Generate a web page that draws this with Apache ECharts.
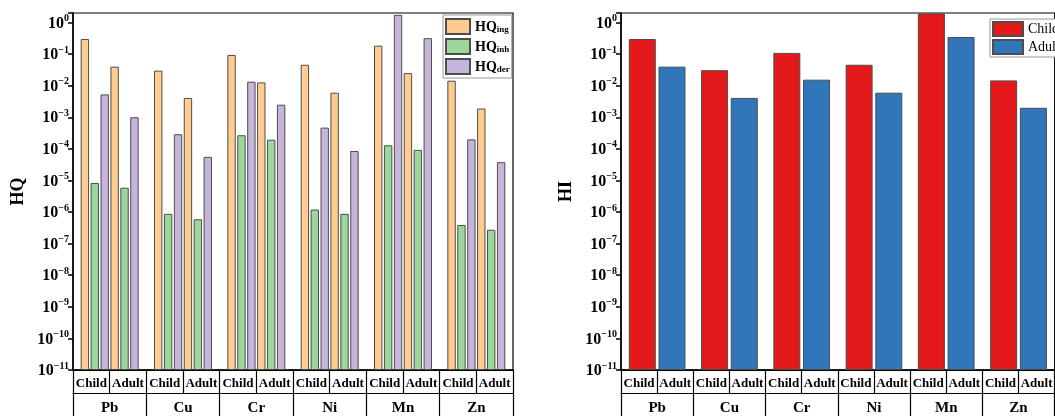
<!DOCTYPE html>
<html>
<head>
<meta charset="utf-8">
<script src="https://cdn.jsdelivr.net/npm/echarts@6/dist/echarts.min.js"></script>
<style>html,body{margin:0;padding:0;background:#fff}#c{width:1055px;height:416px}</style>
</head>
<body>
<div id="c"></div>
<script>
const elements = ['Pb', 'Cu', 'Cr', 'Ni', 'Mn', 'Zn'];
const ages = ['Child', 'Adult'];
const hqIngChild = [0.30, 0.030, 0.094, 0.046, 0.185, 0.0144];
const hqInhChild = [8.3e-6, 8.8e-7, 2.7e-4, 1.2e-6, 1.3e-4, 3.9e-7];
const hqDerChild = [5.3e-3, 2.9e-4, 0.0134, 4.7e-4, 1.75, 2.0e-4];
const hqIngAdult = [0.040, 4.1e-3, 0.0127, 6.0e-3, 0.025, 1.9e-3];
const hqInhAdult = [5.9e-6, 5.9e-7, 1.95e-4, 8.8e-7, 9.3e-5, 2.75e-7];
const hqDerAdult = [1.0e-3, 5.6e-5, 2.5e-3, 8.6e-5, 0.32, 3.8e-5];
const hiChild = [0.30, 0.031, 0.109, 0.046, 1.94, 0.0147];
const hiAdult = [0.040, 4.1e-3, 0.0155, 6.0e-3, 0.347, 2.0e-3];
const yTickMin = 1e-11;
const yTickMax = 2;

const FONT = '"Liberation Serif", "Times New Roman", serif';
const subCats = [];
elements.forEach(() => ages.forEach(a => subCats.push(a)));

function yLabel(v) {
  const l = Math.log10(v);
  const e = Math.round(l);
  if (Math.abs(l - e) > 1e-6) return '';
  return '{b|10}{p|' + (e < 0 ? '\u2212' + (-e) : e) + '}';
}

function makeY(gi, name) {
  return {
    type: 'log', gridIndex: gi, min: yTickMin, max: yTickMax, startValue: yTickMin,
    interval: 1, splitNumber: 11, logBase: 10,
    name: name, nameLocation: 'middle', nameGap: 46,
    nameTextStyle: { fontFamily: FONT, fontWeight: 'bold', fontSize: 18, color: '#000' },
    axisLine: { show: true, lineStyle: { color: '#000', width: 1.5 } },
    axisTick: { show: true, length: 5, lineStyle: { color: '#000', width: 1.5 } },
    splitLine: { show: false },
    minorTick: { show: false },
    axisLabel: {
      formatter: yLabel, margin: 4, hideOverlap: false, showMinLabel: true, showMaxLabel: true,
      rich: {
        b: { fontFamily: FONT, fontWeight: 'bold', fontSize: 16, color: '#000', lineHeight: 18, verticalAlign: 'bottom' },
        p: { fontFamily: FONT, fontWeight: 'bold', fontSize: 10, color: '#000', lineHeight: 10, verticalAlign: 'top' }
      }
    }
  };
}

function makeX(gi) {
  return [
    {
      type: 'category', gridIndex: gi, data: elements, position: 'bottom',
      axisLine: { show: true, onZero: false, lineStyle: { color: '#000', width: 1.5 } },
      axisTick: { show: false }, axisLabel: { show: false }, splitLine: { show: false }
    },
    {
      type: 'category', gridIndex: gi, data: subCats, position: 'bottom', offset: 0,
      axisLine: { show: true, onZero: false, lineStyle: { color: '#000', width: 1.2 } },
      axisTick: { show: true, interval: 0, length: 23, lineStyle: { color: '#000', width: 1.2 } },
      axisLabel: { interval: 0, margin: 7, fontFamily: FONT, fontWeight: 'bold', fontSize: 13, color: '#000' },
      splitLine: { show: false }
    },
    {
      type: 'category', gridIndex: gi, data: elements, position: 'bottom', offset: 23,
      axisLine: { show: true, onZero: false, lineStyle: { color: '#000', width: 1.2 } },
      axisTick: { show: true, interval: 0, length: 30, lineStyle: { color: '#000', width: 1.2 } },
      axisLabel: { interval: 0, margin: 8, fontFamily: FONT, fontWeight: 'bold', fontSize: 15, color: '#000' },
      splitLine: { show: false }
    }
  ];
}

const C_ING = '#FFCB91', C_INH = '#9BD69B', C_DER = '#C6B4DA';
const C_CHILD = '#E3191C', C_ADULT = '#3176BA';
const bstyle = c => ({ color: c, borderColor: '#4d4d4d', borderWidth: 1 });

function hqSeries(name, data, color) {
  return { type: 'bar', name: name, xAxisIndex: 0, yAxisIndex: 0, data: data,
    barWidth: 8.4, barGap: '18%', itemStyle: bstyle(color) };
}
function hiSeries(name, data, color) {
  return { type: 'bar', name: name, xAxisIndex: 3, yAxisIndex: 1, data: data,
    barWidth: 27, barGap: '10%', itemStyle: bstyle(color) };
}

const legendSub = {
  b: { fontFamily: FONT, fontWeight: 'bold', fontSize: 14, color: '#000', lineHeight: 16, verticalAlign: 'bottom' },
  s: { fontFamily: FONT, fontWeight: 'bold', fontSize: 9, color: '#000', lineHeight: 9, verticalAlign: 'bottom' }
};
const subOf = { HQing: 'ing', HQinh: 'inh', HQder: 'der' };

const option = {
  animation: false,
  backgroundColor: '#fff',
  grid: [
    { left: 73, top: 13, width: 440, height: 359, show: true, borderColor: '#000', borderWidth: 1.2, backgroundColor: 'transparent' },
    { left: 621, top: 13, width: 445, height: 359, show: true, borderColor: '#000', borderWidth: 1.2, backgroundColor: 'transparent' }
  ],
  legend: [
    {
      data: ['HQing', 'HQinh', 'HQder'], left: 443, top: 15, orient: 'vertical', icon: 'rect',
      itemWidth: 24, itemHeight: 15, itemGap: 3, padding: [3, 2, 3, 2],
      borderColor: '#999', borderWidth: 1, backgroundColor: '#fff',
      formatter: n => '{b|HQ}{s|' + subOf[n] + '}',
      textStyle: { rich: legendSub },
      selectedMode: false
    },
    {
      data: ['Child', 'Adult'], left: 990, top: 19, orient: 'vertical', icon: 'rect',
      itemWidth: 30, itemHeight: 14, itemGap: 2, padding: [2, 3, 2, 2],
      borderColor: '#999', borderWidth: 1, backgroundColor: '#fff',
      textStyle: { fontFamily: FONT, fontSize: 14, color: '#000' },
      selectedMode: false
    }
  ],
  xAxis: makeX(0).concat(makeX(1)),
  yAxis: [makeY(0, 'HQ'), makeY(1, 'HI')],
  series: [
    hqSeries('HQing', hqIngChild, C_ING),
    hqSeries('HQinh', hqInhChild, C_INH),
    hqSeries('HQder', hqDerChild, C_DER),
    hqSeries('HQing', hqIngAdult, C_ING),
    hqSeries('HQinh', hqInhAdult, C_INH),
    hqSeries('HQder', hqDerAdult, C_DER),
    hiSeries('Child', hiChild, C_CHILD),
    hiSeries('Adult', hiAdult, C_ADULT)
  ]
};

const chart = echarts.init(document.getElementById('c'), null, { renderer: 'canvas' });
chart.setOption(option);
</script>
</body>
</html>
